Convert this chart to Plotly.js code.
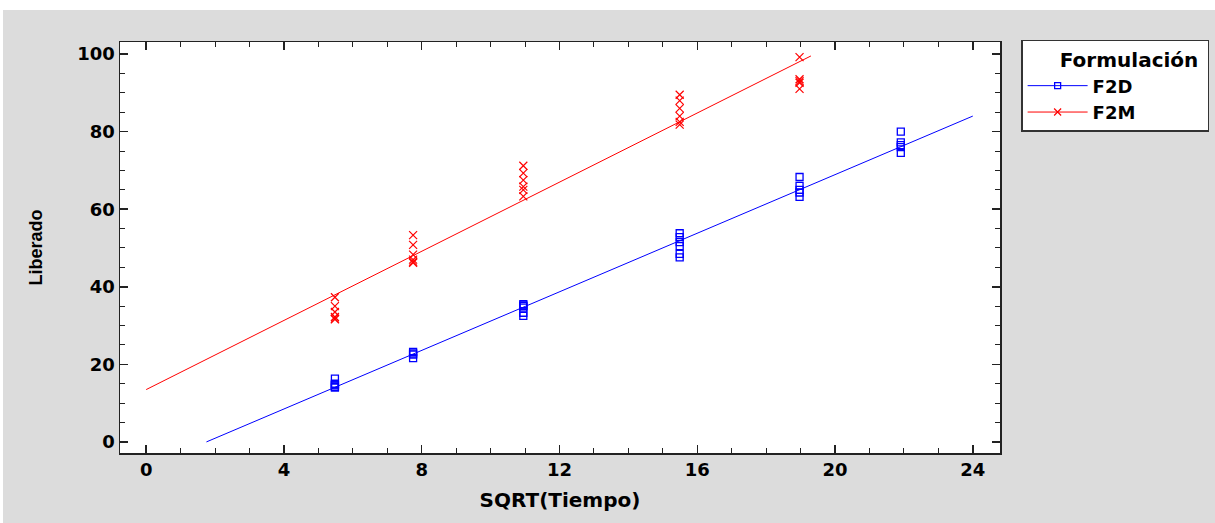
<!DOCTYPE html>
<html>
<head>
<meta charset="utf-8">
<script src="https://cdn.plot.ly/plotly-3.0.1.min.js"></script>
<style>
  html, body { margin: 0; padding: 0; background: #ffffff; }
  #chart { position: absolute; left: 3px; top: 10px; width: 1212px; height: 513px; }
</style>
</head>
<body>
<div id="chart"></div>
<script>
// Sampling times (SQRT(Tiempo))
const xF2D = [5.48,5.48,5.48,5.48,5.48,5.48, 7.75,7.75,7.75,7.75, 10.95,10.95,10.95,10.95,10.95,10.95,
              15.49,15.49,15.49,15.49,15.49,15.49, 18.97,18.97,18.97,18.97,18.97, 21.91,21.91,21.91,21.91,21.91];
const yF2D = [16.3,15.0,14.6,14.2,14.8,14.0, 23.2,22.8,21.6,22.5, 35.5,35.0,34.6,33.3,32.5,35.2,
              53.8,52.8,51.5,50.5,48.5,47.6, 68.3,66.0,65.0,64.3,63.2, 80.0,77.2,76.5,76.0,74.5];

const xF2M = [5.48,5.48,5.48,5.48,5.48,5.48, 7.75,7.75,7.75,7.75,7.75,7.75, 10.95,10.95,10.95,10.95,10.95,10.95,
              15.49,15.49,15.49,15.49,15.49,15.49, 18.97,18.97,18.97,18.97,18.97];
const yF2M = [37.3,35.0,33.5,32.2,31.6,31.8, 53.3,50.8,48.3,47.0,46.5,46.2, 71.2,69.3,67.5,65.8,65.0,63.3,
              89.5,88.0,86.0,84.0,82.5,81.8, 99.2,93.5,93.0,92.6,91.0];

// Fitted lines: intercept, slope, x-extent
const fitF2D = {b0: -6.6, b1: 3.775};
const fitF2M = {b0: 13.5, b1: 4.456};
const lineXF2D = [1.75, 24];
const lineXF2M = [0, 19.3];

const seriesNames = ["F2D", "F2M"];
const legendTitle = "Formulación";
const xTicks = [0, 4, 8, 12, 16, 20, 24];
const yTicks = [0, 20, 40, 60, 80, 100];

const blue = "#0000ff", red = "#ff0000";
const lineY = (f, xs) => xs.map(x => f.b0 + f.b1 * x);

const traces = [
  {x: lineXF2D, y: lineY(fitF2D, lineXF2D), mode: "lines", line: {color: blue, width: 1}, showlegend: false, hoverinfo: "skip"},
  {x: lineXF2M, y: lineY(fitF2M, lineXF2M), mode: "lines", line: {color: red, width: 1}, showlegend: false, hoverinfo: "skip"},
  {x: xF2D, y: yF2D, mode: "markers", marker: {symbol: "square-open", size: 7, color: blue, line: {width: 1.3}}, showlegend: false},
  {x: xF2M, y: yF2M, mode: "markers", marker: {symbol: "x-thin-open", size: 8, color: red, line: {width: 1.2, color: red}}, showlegend: false},
  {x: [null], y: [null], name: seriesNames[0], mode: "lines+markers", line: {color: blue, width: 1},
   marker: {symbol: "square-open", size: 6, color: blue, line: {width: 1.3}}},
  {x: [null], y: [null], name: seriesNames[1], mode: "lines+markers", line: {color: red, width: 1},
   marker: {symbol: "x-thin-open", size: 7, color: red, line: {width: 1.2, color: red}}}
];

const wide = "DejaVu Sans, Verdana, sans-serif";
const narrow = "Liberation Sans, Arial, sans-serif";
const tickFont = {family: wide, size: 18, color: "#000", weight: "bold"};

const layout = {
  width: 1212, height: 513,
  paper_bgcolor: "#dcdcdc",
  plot_bgcolor: "#ffffff",
  margin: {l: 117, r: 215, t: 32, b: 70, autoexpand: false},
  showlegend: true,
  xaxis: {
    range: [-0.76, 24.79],
    tickvals: xTicks, ticktext: xTicks.map(String),
    ticks: "inside", ticklen: 8, tickwidth: 1.5, tickcolor: "#222",
    minor: {dtick: 1, ticks: "inside", ticklen: 5, tickwidth: 1, tickcolor: "#222", showgrid: false},
    showline: true, linecolor: "#222", linewidth: 1.5, mirror: "ticks",
    showgrid: false, zeroline: false,
    tickfont: tickFont,
    title: {text: "<b>SQRT(Tiempo)</b>", font: {family: wide, size: 20, color: "#000"}, standoff: 14}
  },
  yaxis: {
    range: [-2.85, 103.1],
    tickvals: yTicks, ticktext: yTicks.map(String),
    ticks: "inside", ticklen: 8, tickwidth: 1.5, tickcolor: "#222",
    minor: {dtick: 5, ticks: "inside", ticklen: 5, tickwidth: 1, tickcolor: "#222", showgrid: false},
    showline: true, linecolor: "#222", linewidth: 1.5, mirror: "ticks",
    showgrid: false, zeroline: false,
    tickfont: tickFont,
    title: {text: "<b>Liberado</b>", font: {family: narrow, size: 18, color: "#000"}, standoff: 30}
  },
  legend: {
    x: 1.024, y: 1.005, xanchor: "left", yanchor: "top",
    bgcolor: "#ffffff", bordercolor: "#333", borderwidth: 1.5,
    font: {family: wide, size: 18, color: "#000", weight: "bold"},
    title: {text: "\u00a0\u00a0\u00a0\u00a0\u00a0<b>" + legendTitle + "</b>\u00a0", side: "top center", font: {family: wide, size: 20, color: "#000"}},
    itemwidth: 60, tracegroupgap: 0
  }
};

Plotly.newPlot("chart", traces, layout, {displayModeBar: false, staticPlot: true});
</script>
</body>
</html>
